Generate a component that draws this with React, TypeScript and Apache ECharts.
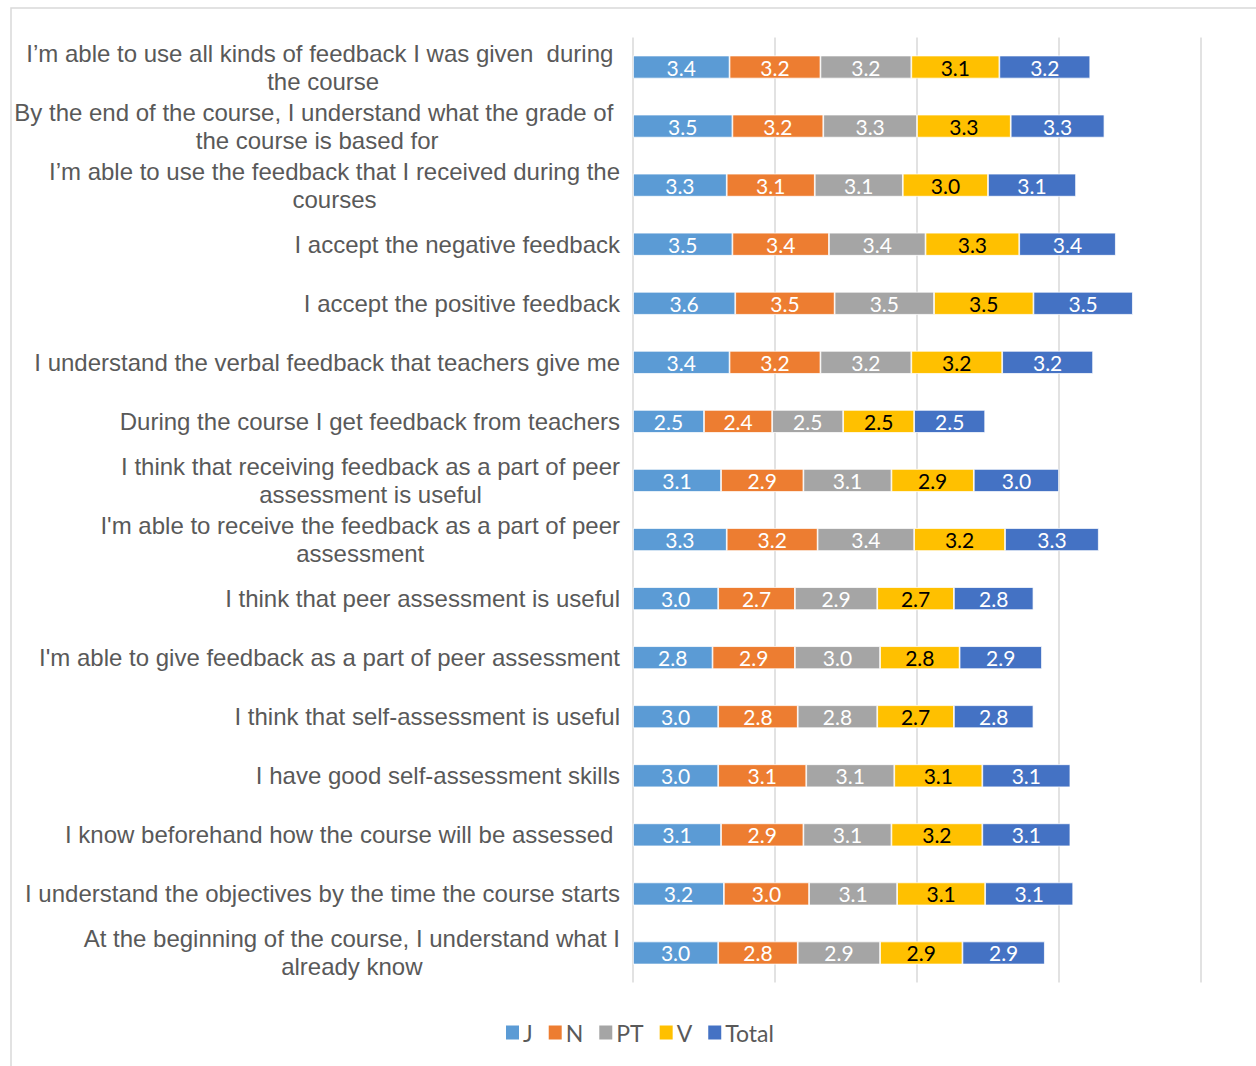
import React, { useEffect, useRef } from "react";
import * as echarts from "echarts";

const categories: string[] = [
  "I’m able to use all kinds of feedback I was given  during \nthe course",
  "By the end of the course, I understand what the grade of \nthe course is based for",
  "I’m able to use the feedback that I received during the\ncourses",
  "I accept the negative feedback",
  "I accept the positive feedback",
  "I understand the verbal feedback that teachers give me",
  "During the course I get feedback from teachers",
  "I think that receiving feedback as a part of peer\nassessment is useful",
  "I'm able to receive the feedback as a part of peer\nassessment",
  "I think that peer assessment is useful",
  "I'm able to give feedback as a part of peer assessment",
  "I think that self-assessment is useful",
  "I have good self-assessment skills",
  "I know beforehand how the course will be assessed ",
  "I understand the objectives by the time the course starts",
  "At the beginning of the course, I understand what I\nalready know",
];

const seriesNames: string[] = ["J", "N", "PT", "V", "Total"];

const valuesJ: number[] = [3.4, 3.5, 3.3, 3.5, 3.6, 3.4, 2.5, 3.1, 3.3, 3.0, 2.8, 3.0, 3.0, 3.1, 3.2, 3.0];
const valuesN: number[] = [3.2, 3.2, 3.1, 3.4, 3.5, 3.2, 2.4, 2.9, 3.2, 2.7, 2.9, 2.8, 3.1, 2.9, 3.0, 2.8];
const valuesPT: number[] = [3.2, 3.3, 3.1, 3.4, 3.5, 3.2, 2.5, 3.1, 3.4, 2.9, 3.0, 2.8, 3.1, 3.1, 3.1, 2.9];
const valuesV: number[] = [3.1, 3.3, 3.0, 3.3, 3.5, 3.2, 2.5, 2.9, 3.2, 2.7, 2.8, 2.7, 3.1, 3.2, 3.1, 2.9];
const valuesTotal: number[] = [3.2, 3.3, 3.1, 3.4, 3.5, 3.2, 2.5, 3.0, 3.3, 2.8, 2.9, 2.8, 3.1, 3.1, 3.1, 2.9];

const seriesValues: number[][] = [valuesJ, valuesN, valuesPT, valuesV, valuesTotal];
const seriesColors: string[] = ["#5B9BD5", "#ED7D31", "#A5A5A5", "#FFC000", "#4472C4"];
const labelColors: string[] = ["#ffffff", "#ffffff", "#ffffff", "#000000", "#ffffff"];

export default function App() {
  const ref = useRef<HTMLDivElement>(null);

  useEffect(() => {
    document.body.style.margin = "0";
    if (!ref.current) return;
    const chart = echarts.init(ref.current, undefined, { renderer: "svg" });

    const labelFont = "'Liberation Sans', Arial, sans-serif";
    const numFont = "Lato, 'Open Sans', sans-serif";

    chart.setOption({
      animation: false,
      backgroundColor: "#ffffff",
      graphic: [
        {
          type: "rect",
          shape: { x: 11, y: 8, width: 1400, height: 1200 },
          style: { fill: "none", stroke: "#d9d9d9", lineWidth: 1.5 },
          silent: true,
        },
      ],
      grid: { left: 633, right: 55, top: 37.5, bottom: 83.5, containLabel: false },
      legend: {
        left: 501,
        top: 1016,
        icon: "rect",
        itemWidth: 13,
        itemHeight: 14,
        itemGap: 16,
        itemStyle: { borderWidth: 0 },
        textStyle: { fontFamily: numFont, fontSize: 23, color: "#595959", padding: [0, 0, 0, -1] },
        data: seriesNames,
      },
      xAxis: {
        type: "value",
        min: 0,
        max: 20,
        interval: 5,
        axisLabel: { show: false },
        axisLine: { show: false },
        axisTick: { show: false },
        splitLine: { show: true, lineStyle: { color: "#d9d9d9", width: 1.5 } },
      },
      yAxis: {
        type: "category",
        inverse: true,
        data: categories,
        axisLine: { show: false },
        axisTick: { show: false },
        axisLabel: {
          interval: 0,
          margin: 13,
          formatter: (v: string) =>
            v
              .split("\n")
              .map((l) => "{c|" + l + "}")
              .join("\n"),
          rich: {
            c: {
              align: "center",
              fontFamily: labelFont,
              fontSize: 24,
              lineHeight: 28,
              color: "#595959",
            },
          },
        },
      },
      series: seriesNames.map((name, i) => ({
        name,
        type: "bar",
        stack: "all",
        barWidth: 23,
        data: seriesValues[i],
        itemStyle: { color: seriesColors[i], borderColor: "#ffffff", borderWidth: 0.75 },
        label: {
          show: true,
          position: "inside",
          color: labelColors[i],
          fontFamily: numFont,
          fontSize: 21,
          formatter: (p: any) => Number(p.value).toFixed(1),
        },
      })),
    });

    return () => {
      chart.dispose();
    };
  }, []);

  return <div ref={ref} style={{ width: 1256, height: 1066 }} />;
}
